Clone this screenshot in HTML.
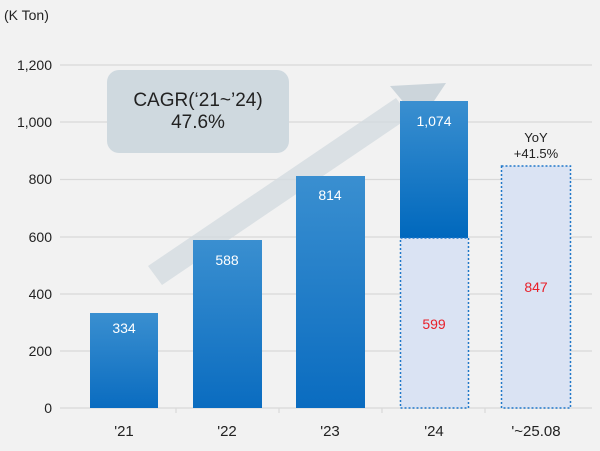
<!DOCTYPE html>
<html><head><style>body{margin:0;background:#f2f2f2}svg{display:block}</style></head>
<body>
<svg width="600" height="451" viewBox="0 0 600 451" xmlns="http://www.w3.org/2000/svg" font-family="Liberation Sans, sans-serif">
<defs>
<linearGradient id="g" x1="0" y1="0" x2="0" y2="1"><stop offset="0" stop-color="#3a8fd0"/><stop offset="1" stop-color="#0a6cc0"/></linearGradient>
<linearGradient id="g2" x1="0" y1="0" x2="0" y2="1"><stop offset="0" stop-color="#3a8fd0"/><stop offset="1" stop-color="#0068bd"/></linearGradient>
</defs>
<rect width="600" height="451" fill="#f2f2f2"/>
<g stroke="#d9d9d9" stroke-width="1.2">
<line x1="60" x2="592" y1="65" y2="65"/><line x1="60" x2="592" y1="122" y2="122"/>
<line x1="60" x2="592" y1="179.5" y2="179.5"/><line x1="60" x2="592" y1="237" y2="237"/>
<line x1="60" x2="592" y1="294" y2="294"/><line x1="60" x2="592" y1="351" y2="351"/>
<line x1="60" x2="592" y1="408" y2="408"/>
<line x1="176" x2="176" y1="408" y2="413"/><line x1="279" x2="279" y1="408" y2="413"/><line x1="382" x2="382" y1="408" y2="413"/><line x1="485" x2="485" y1="408" y2="413"/>
</g>
<g font-size="14" fill="#222" text-anchor="end">
<text x="52" y="70">1,200</text><text x="52" y="127">1,000</text><text x="52" y="184">800</text>
<text x="52" y="242">600</text><text x="52" y="299">400</text><text x="52" y="356">200</text><text x="52" y="413">0</text>
</g>
<text x="4" y="20" font-size="14" fill="#222">(K Ton)</text>
<polygon points="148,266 396,98 410,117 162,285" fill="#d3dbe0" opacity="0.8"/>
<polygon points="390,86 446,83 420,122" fill="#ccd5db"/>
<rect x="107" y="70" width="182" height="83" rx="12" fill="#cfd9df"/>
<text x="198" y="106" font-size="19" fill="#222" text-anchor="middle">CAGR(‘21~’24)</text>
<text x="198" y="128" font-size="19" fill="#222" text-anchor="middle">47.6%</text>
<rect x="90" y="313" width="68" height="95" fill="url(#g)"/>
<rect x="193" y="240" width="69" height="168" fill="url(#g)"/>
<rect x="296" y="176" width="69" height="232" fill="url(#g)"/>
<rect x="400" y="101" width="68" height="137" fill="url(#g2)"/>
<rect x="400.5" y="238" width="68" height="170" fill="#dae3f3" stroke="#1f77c9" stroke-width="1.5" stroke-dasharray="2,2"/>
<rect x="501.5" y="166" width="69" height="242" fill="#dae3f3" stroke="#1f77c9" stroke-width="1.5" stroke-dasharray="2,2"/>
<g font-size="14" fill="#fff" text-anchor="middle">
<text x="124" y="333">334</text><text x="227" y="265">588</text><text x="330" y="200">814</text><text x="434" y="126">1,074</text>
</g>
<g font-size="14" fill="#e8202a" text-anchor="middle"><text x="434" y="329">599</text><text x="536" y="292">847</text></g>
<g font-size="13" fill="#222" text-anchor="middle"><text x="536" y="142">YoY</text><text x="536" y="158">+41.5%</text></g>
<g font-size="15" fill="#222" text-anchor="middle">
<text x="124" y="436">'21</text><text x="227" y="436">'22</text><text x="330" y="436">'23</text><text x="434" y="436">'24</text><text x="536" y="436">'~25.08</text>
</g>
</svg>
</body></html>
